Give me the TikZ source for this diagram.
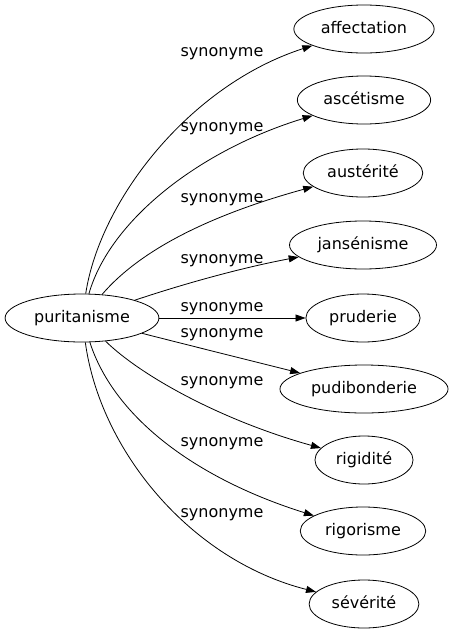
\documentclass[tikz,border=0pt]{standalone}
\usepackage{fontspec}
\setmainfont{DejaVu Sans}
\usetikzlibrary{shapes.geometric,arrows.meta}
\begin{document}
\begin{tikzpicture}[x=1pt,y=-1pt,
    word/.style={draw,ellipse,line width=0.8pt,inner xsep=6.5pt,inner ysep=0pt,
      minimum height=48pt,text height=12pt,text depth=3.5pt,
      font=\fontsize{16}{19}\selectfont},
    rel/.style={inner sep=0pt,font=\fontsize{16}{19}\selectfont},
    syn/.style={-{Triangle[length=10pt,width=7pt]},line width=0.8pt}]
          \useasboundingbox (0,0) rectangle (452,635);

          \node[word] (pur) at (82,318) {puritanisme};

          \node[word] (aff) at (364,29) {affectation};
          \node[word] (asc) at (364,100) {ascétisme};
          \node[word] (aus) at (363,173) {austérité};
          \node[word] (jan) at (363,245) {jansénisme};
          \node[word] (pru) at (363,318) {pruderie};
          \node[word] (pud) at (364,389) {pudibonderie};
          \node[word] (rgd) at (364,460) {rigidité};
          \node[word] (rgr) at (363,531) {rigorisme};
          \node[word] (sev) at (364,604) {sévérité};

          \node[rel] (l1) at (222,53.5) {synonyme};
          \node[rel] (l2) at (222,128.5) {synonyme};
          \node[rel] (l3) at (222,199.5) {synonyme};
          \node[rel] (l4) at (222,260.5) {synonyme};
          \node[rel] (l5) at (222,308.5) {synonyme};
          \node[rel] (l6) at (222,334.5) {synonyme};
          \node[rel] (l7) at (222,382.5) {synonyme};
          \node[rel] (l8) at (222,443.5) {synonyme};
          \node[rel] (l9) at (222,514.5) {synonyme};

          \draw[syn] (pur) .. controls (100,200) and (190,85) .. (aff);
          \draw[syn] (pur) .. controls (110,220) and (200,150) .. (asc);
          \draw[syn] (pur) .. controls (140,250) and (210,215) .. (aus);
          \draw[syn] (pur) .. controls (180,285) and (240,268) .. (jan);
          \draw[syn] (pur) -- (pru);
          \draw[syn] (pur) .. controls (180,343) and (240,358) .. (pud);
          \draw[syn] (pur) .. controls (140,375) and (220,420) .. (rgd);
          \draw[syn] (pur) .. controls (115,420) and (200,480) .. (rgr);
          \draw[syn] (pur) .. controls (100,450) and (190,560) .. (sev);
        \end{tikzpicture}
\end{document}
